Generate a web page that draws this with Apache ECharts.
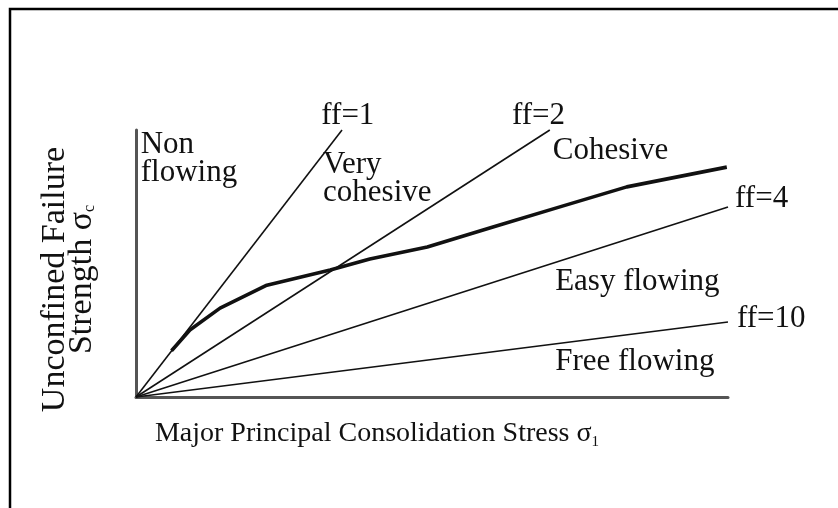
<!DOCTYPE html>
<html>
<head>
<meta charset="utf-8">
<script src="https://cdn.jsdelivr.net/npm/echarts@6/dist/echarts.min.js"></script>
<style>html,body{margin:0;padding:0;background:#fff}#c{width:838px;height:508px}</style>
</head>
<body>
<div id="c"></div>
<script>
// Flow-function lines (from origin to their end points), in axis units
var ff1 = [[0, 0], [34.8, 100]];
var ff2 = [[0, 0], [69.9, 100]];
var ff4 = [[0, 0], [100, 71.2]];
var ff10 = [[0, 0], [100, 28.1]];
// Flow function curve (thick line)
var curveX = [6.0, 9.1, 14.2, 22.1, 32.8, 39.5, 49.2, 60.3, 71.6, 82.9, 99.8];
var curveY = [17.3, 25.1, 33.3, 41.9, 47.6, 51.7, 56.2, 63.7, 71.2, 78.7, 86.1];
// Region / line annotations: text, x, y (top-left anchor)
var annoText = ['Non\nflowing', 'ff=1', 'Very\ncohesive', 'ff=2', 'Cohesive', 'ff=4', 'Easy flowing', 'ff=10', 'Free flowing'];
var annoX = [0.8, 31.3, 31.6, 63.5, 70.4, 101.2, 70.8, 101.5, 70.8];
var annoY = [99.6, 110.4, 92.1, 110.4, 97.4, 79.4, 48.3, 34.5, 18.4];
var xTitle = 'Major Principal Consolidation Stress ';
var yTitle1 = 'Unconfined Failure';
var yTitle2 = 'Strength ';

var FONT = 'Liberation Serif';
var chart = echarts.init(document.getElementById('c'), null, {renderer: 'canvas'});

function lineSeries(d, w) {
  return {type: 'line', data: d, symbol: 'none', silent: true, clip: false,
    lineStyle: {color: '#111', width: w}, z: 3};
}
var curve = curveX.map(function (x, i) { return [x, curveY[i]]; });
var anno = annoText.map(function (t, i) { return {value: [annoX[i], annoY[i]], name: t}; });

chart.setOption({
  animation: false,
  backgroundColor: '#fff',
  grid: {left: 136, right: 110, top: 130, bottom: 111},
  graphic: [{type: 'rect', shape: {x: 10, y: 9, width: 900, height: 600},
    style: {fill: 'none', stroke: '#000', lineWidth: 2.5}, z: 0}],
  xAxis: {
    type: 'value', min: 0, max: 100,
    axisLine: {show: true, lineStyle: {color: '#555', width: 3}},
    axisTick: {show: false}, axisLabel: {show: false}, splitLine: {show: false},
    name: '{m|' + xTitle + 'σ}{s|1}', nameLocation: 'middle', nameGap: 22,
    nameTextStyle: {
      padding: [0, 110, 0, 0],
      rich: {
        m: {fontFamily: FONT, fontSize: 28, color: '#111', lineHeight: 30},
        s: {fontFamily: FONT, fontSize: 15, color: '#111', lineHeight: 30, padding: [16, 0, 0, 0]}
      }
    }
  },
  yAxis: {
    type: 'value', min: 0, max: 100,
    axisLine: {show: true, lineStyle: {color: '#555', width: 3}},
    axisTick: {show: false}, axisLabel: {show: false}, splitLine: {show: false},
    name: '{m|' + yTitle1 + '}\n{m|' + yTitle2 + 'σ}{s|c}', nameLocation: 'middle', nameGap: 40, nameRotate: 90,
    nameTextStyle: {
      padding: [0, 32, 0, 0],
      rich: {
        m: {fontFamily: FONT, fontSize: 34, color: '#111', lineHeight: 27},
        s: {fontFamily: FONT, fontSize: 16, color: '#111', lineHeight: 27, padding: [15, 0, 0, 0]}
      }
    }
  },
  series: [
    lineSeries(ff1, 1.6),
    lineSeries(ff2, 1.6),
    lineSeries(ff4, 1.6),
    lineSeries(ff10, 1.6),
    lineSeries(curve, 3.6),
    {
      type: 'scatter', data: anno, symbolSize: 0, silent: true, clip: false, z: 4,
      itemStyle: {opacity: 1},
      label: {
        show: true, position: [0, 0], align: 'left', verticalAlign: 'top',
        formatter: function (p) { return p.name; },
        fontFamily: FONT, fontSize: 31, lineHeight: 28, color: '#111'
      }
    }
  ]
});
</script>
</body>
</html>
